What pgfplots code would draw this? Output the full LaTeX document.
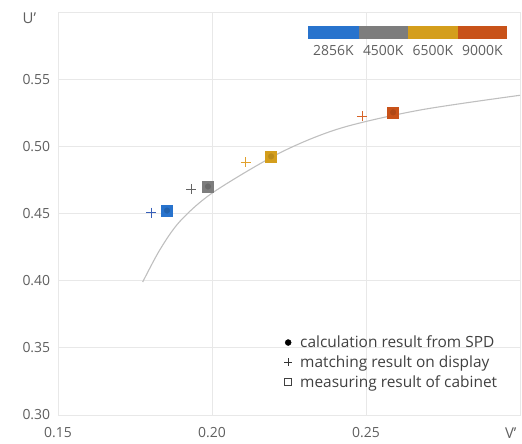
\documentclass[border=0pt]{standalone}
\usepackage{fontspec}
\setmainfont{Open Sans}
\usepackage{pgfplots}
\pgfplotsset{compat=1.18}
\definecolor{cblue}{RGB}{40,115,205}
\definecolor{cgray}{RGB}{125,125,125}
\definecolor{cgold}{RGB}{212,158,28}
\definecolor{corange}{RGB}{200,82,25}
\definecolor{pblue}{RGB}{55,95,185}
\definecolor{pgray}{RGB}{100,100,100}
\definecolor{pgold}{RGB}{225,160,45}
\definecolor{porange}{RGB}{215,100,40}
\definecolor{txt}{RGB}{95,95,95}
\definecolor{gridc}{RGB}{232,232,232}
\begin{document}
\fontsize{14}{16}\selectfont
\begin{tikzpicture}
\begin{axis}[
  scale only axis, width=462bp, height=403bp,
  xmin=0.15, xmax=0.30, ymin=0.30, ymax=0.60,
  xtick={0.15,0.20,0.25}, ytick={0.30,0.35,0.40,0.45,0.50,0.55},
  /pgf/number format/assume math mode=true,
  /pgf/number format/fixed, /pgf/number format/fixed zerofill,
  /pgf/number format/precision=2,
  tick label style={font=\fontsize{14}{16}\selectfont, text=txt},
  xticklabel style={yshift=-8bp},
  yticklabel style={xshift=-3bp},
  major tick length=0pt,
  grid=major, major grid style={color=gridc, line width=0.7pt},
  axis line style={color=gridc, line width=0.7pt},
  xlabel={V’}, ylabel={U’},
  xlabel style={at={(rel axis cs:0.98,-0.045)}, anchor=center, font=\fontsize{15}{17}\selectfont, text=txt},
  ylabel style={at={(rel axis cs:-0.062,0.985)}, anchor=center, rotate=-90, font=\fontsize{15}{17}\selectfont, text=txt},
  legend style={at={(rel axis cs:0.487,0.205)}, anchor=north west, draw=none, fill=none,
    font=\fontsize{15.5}{17}\selectfont, text=black!75, row sep=2bp, inner sep=1bp,
    /tikz/every odd column/.append style={column sep=6bp}},
  legend cell align=left,
  clip=false,
]
% Planckian-like locus
\addplot[smooth, color=black!25, line width=1.1pt, forget plot] coordinates {
 (0.1775,0.3990) (0.1831,0.4231) (0.1896,0.4442) (0.2003,0.4656)
 (0.2221,0.4952) (0.2416,0.5134) (0.2675,0.5270) (0.3000,0.5380)};
% measuring result of cabinet (squares)
\addplot[only marks, mark=square*, mark size=5.5bp, color=cblue, forget plot] coordinates {(0.1854,0.4522)};
\addplot[only marks, mark=square*, mark size=5.5bp, color=cgray, forget plot] coordinates {(0.1987,0.4701)};
\addplot[only marks, mark=square*, mark size=5.5bp, color=cgold, forget plot] coordinates {(0.2192,0.4925)};
\addplot[only marks, mark=square*, mark size=5.5bp, color=corange, forget plot] coordinates {(0.2588,0.5253)};
% calculation result from SPD (circles, under the squares)
\addplot[only marks, mark=*, mark size=2.8bp, color=cblue!85!black, forget plot] coordinates {(0.1854,0.4522)};
\addplot[only marks, mark=*, mark size=2.8bp, color=cgray!85!black, forget plot] coordinates {(0.1987,0.4701)};
\addplot[only marks, mark=*, mark size=2.8bp, color=cgold!88!black, forget plot] coordinates {(0.2192,0.4925)};
\addplot[only marks, mark=*, mark size=2.8bp, color=corange!88!black, forget plot] coordinates {(0.2588,0.5253)};
% matching result on display (plus)
\addplot[only marks, mark=+, mark size=5bp, line width=0.9pt, color=pblue, forget plot] coordinates {(0.1802,0.4507)};
\addplot[only marks, mark=+, mark size=5bp, line width=0.9pt, color=pgray, forget plot] coordinates {(0.1932,0.4679)};
\addplot[only marks, mark=+, mark size=5bp, line width=0.9pt, color=pgold, forget plot] coordinates {(0.2110,0.4880)};
\addplot[only marks, mark=+, mark size=5bp, line width=0.9pt, color=porange, forget plot] coordinates {(0.2487,0.5223)};
% legend
\addlegendimage{only marks, mark=*, mark size=3bp, black}
\addlegendentry{calculation result from SPD}
\addlegendimage{only marks, mark=+, mark size=4bp, line width=0.7pt, black!80}
\addlegendentry{matching result on display}
\addlegendimage{only marks, mark=square, mark size=3.5bp, line width=0.6pt, black!75}
\addlegendentry{measuring result of cabinet}
% colour key
\fill[cblue]   (axis cs:0.2312,0.5798) rectangle (axis cs:0.2477,0.5895);
\fill[cgray]   (axis cs:0.2477,0.5798) rectangle (axis cs:0.2636,0.5895);
\fill[cgold]   (axis cs:0.2636,0.5798) rectangle (axis cs:0.2799,0.5895);
\fill[corange] (axis cs:0.2799,0.5798) rectangle (axis cs:0.2958,0.5895);
\node[text=txt, font=\fontsize{14}{16}\selectfont] at (axis cs:0.2394,0.5712) {2856K};
\node[text=txt, font=\fontsize{14}{16}\selectfont] at (axis cs:0.2556,0.5712) {4500K};
\node[text=txt, font=\fontsize{14}{16}\selectfont] at (axis cs:0.2717,0.5712) {6500K};
\node[text=txt, font=\fontsize{14}{16}\selectfont] at (axis cs:0.2878,0.5712) {9000K};
\end{axis}
\pgfresetboundingbox
\path (current axis.south west) ++(-58bp,-29bp) coordinate (bbA);
\path (current axis.north east) ++(2bp,12bp) coordinate (bbB);
\useasboundingbox (bbA) rectangle (bbB);
\end{tikzpicture}
\end{document}
